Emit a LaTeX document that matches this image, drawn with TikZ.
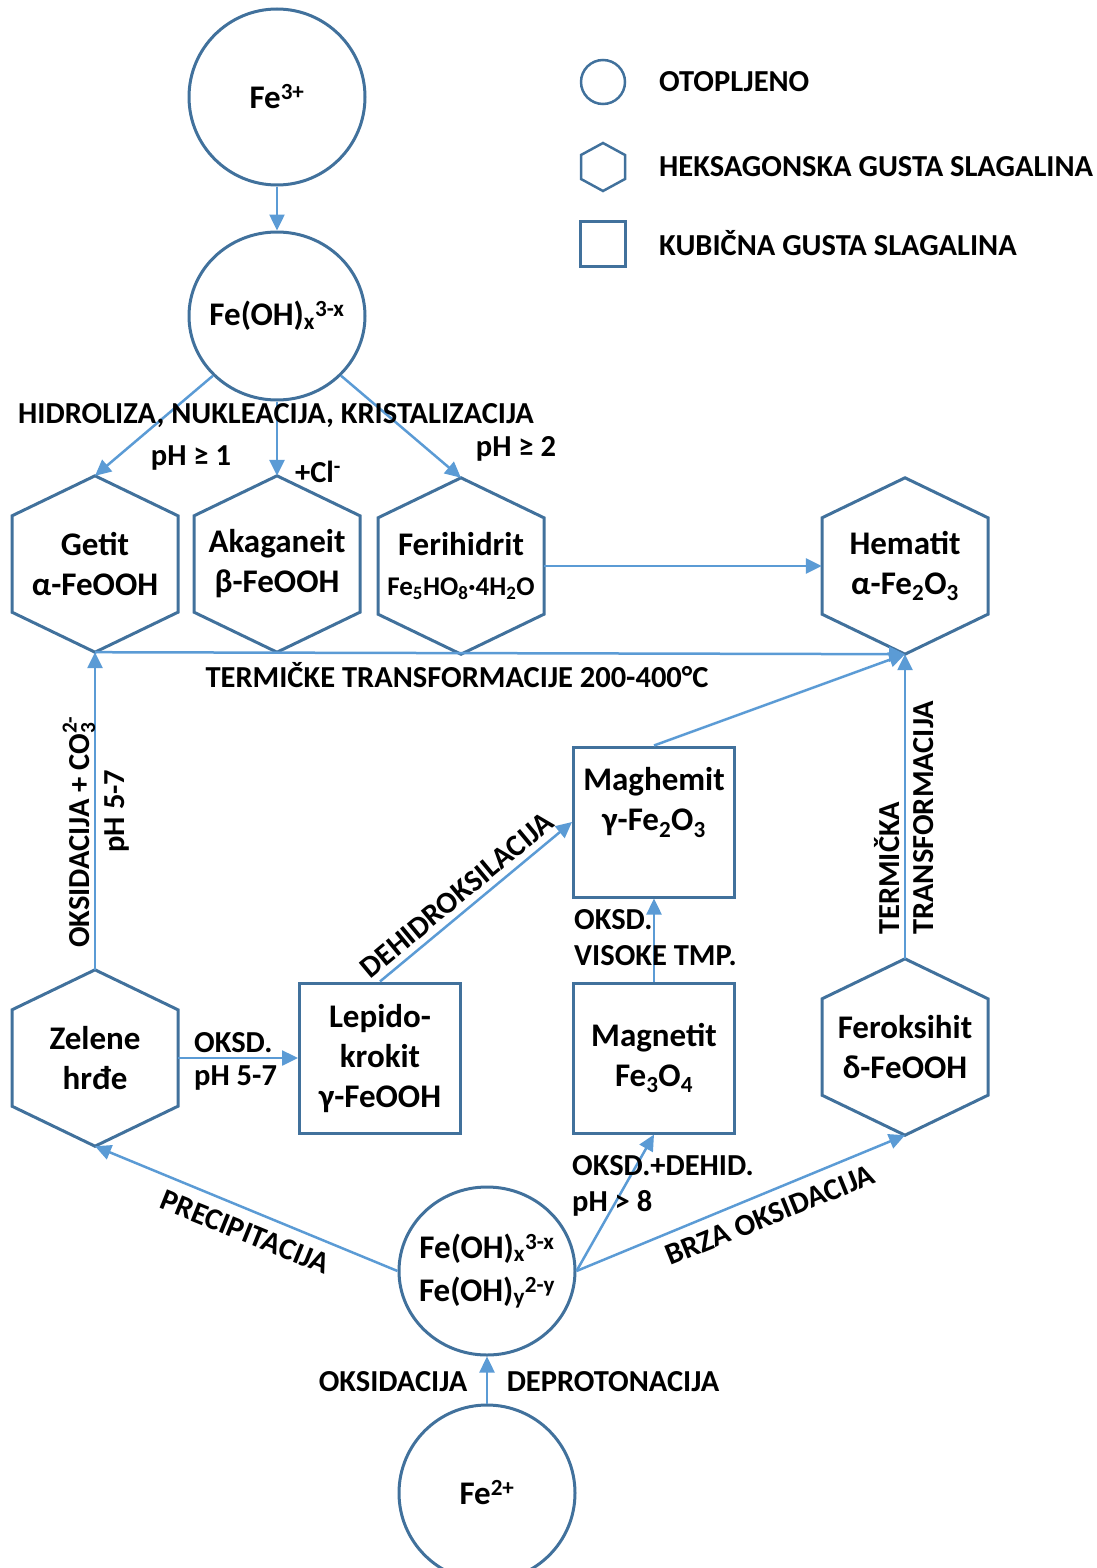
\documentclass[tikz,border=0pt]{standalone}
\usepackage{fontspec}
\setmainfont{Carlito}
\usetikzlibrary{arrows.meta,shapes.geometric}
\definecolor{nodeblue}{HTML}{41719C}
\definecolor{arrowblue}{HTML}{5B9BD5}
\newcommand\nodefont{\fontsize{33}{40}\selectfont\bfseries}
\newcommand\labfont{\fontsize{30.5}{36}\selectfont\bfseries}
\newcommand\hexdraw[1]{\draw[nodeline] (#1.north) -- ([shift={(83,40)}]#1.north) -- ([shift={(83,-40)}]#1.south) -- (#1.south) -- ([shift={(-83,-40)}]#1.south) -- ([shift={(-83,40)}]#1.north) -- cycle;}
\begin{document}
\begin{tikzpicture}[x=1pt,y=-1pt,
  nodeline/.style={draw=nodeblue,line width=3pt,line join=miter},
  hexnode/.style={minimum width=166pt,minimum height=176pt,inner sep=0pt,align=center,font=\nodefont},
  boxnode/.style={draw=nodeblue,line width=3pt,minimum width=161pt,minimum height=150pt,inner sep=0pt,align=center,font=\nodefont},
  circnode/.style={ellipse,draw=nodeblue,line width=3pt,inner sep=0pt},
  ctext/.style={inner sep=0pt,align=center,font=\nodefont},
  lab/.style={font=\labfont,inner sep=0pt,align=left},
  arr/.style={draw=arrowblue,line width=2.5pt,-{Triangle[length=16pt,width=15pt]}}]
\useasboundingbox (0,0) rectangle (1097,1568);

% circles
\node[circnode,minimum width=176pt,minimum height=176pt] (fe3) at (277,97) {};
\node[ctext] (fe3t) at (fe3) {Fe\textsuperscript{3+}};
\node[circnode,minimum width=176pt,minimum height=168pt] (feohx) at (277,316) {};
\node[ctext] (feohxt) at (feohx) {Fe(OH)\textsubscript{x}\textsuperscript{3-x}};
\node[circnode,minimum width=176pt,minimum height=168pt] (mid) at (487,1271) {};
\node[ctext] (midt) at (mid) {Fe(OH)\textsubscript{x}\textsuperscript{3-x}\\[3pt]Fe(OH)\textsubscript{y}\textsuperscript{2-y}};
\node[circnode,minimum width=176pt,minimum height=176pt] (fe2) at (487,1493) {};
\node[ctext] (fe2t) at (fe2) {Fe\textsuperscript{2+}};

% hexagons
\node[hexnode] (getit) at (95,564) {Getit\\α-FeOOH};
\node[hexnode] (akag) at (277,564) {Akaganeit\\β-FeOOH};
\node[hexnode] (ferih) at (461,566) {Ferihidrit\\{\fontsize{27}{30}\selectfont Fe\textsubscript{5}HO\textsubscript{8}·4H\textsubscript{2}O}};
\node[hexnode] (hemat) at (905,566) {Hematit\\α-Fe\textsubscript{2}O\textsubscript{3}};
\node[hexnode] (zelene) at (95,1058) {Zelene\\hrđe};
\node[hexnode] (ferok) at (905,1047) {Feroksihit\\δ-FeOOH};
\hexdraw{getit}
\hexdraw{akag}
\hexdraw{ferih}
\hexdraw{hemat}
\hexdraw{zelene}
\hexdraw{ferok}

% boxes
\node[boxnode] (maghem) at (654,822) {Maghemit\\γ-Fe\textsubscript{2}O\textsubscript{3}\\[6pt]};
\node[boxnode] (lepido) at (380,1058) {Lepido-\\krokit\\γ-FeOOH};
\node[boxnode] (magnet) at (654,1058) {Magnetit\\Fe\textsubscript{3}O\textsubscript{4}};

% legend
\node[circle,draw=nodeblue,line width=2.5pt,minimum size=44pt,inner sep=0pt] (legc) at (603,82) {};
\draw[draw=nodeblue,line width=2.5pt] (603,143) -- (625,155) -- (625,179) -- (603,191) -- (581,179) -- (581,155) -- cycle;
\node[draw=nodeblue,line width=2.5pt,minimum size=45pt,inner sep=0pt] (legs) at (603,244) {};
\node[lab,anchor=west] (legt1) at (659,82) {OTOPLJENO};
\node[lab,anchor=west] (legt2) at (659,167) {HEKSAGONSKA GUSTA SLAGALINA};
\node[lab,anchor=west] (legt3) at (659,243) {KUBIČNA GUSTA SLAGALINA};

% arrows
\draw[arr] (fe3.south) -- (feohx.north);
\draw[arr] (feohx.-137) -- (getit.north);
\draw[arr] (feohx.south) -- (akag.north);
\draw[arr] (feohx.-43) -- (ferih.north);
\draw[arr] (ferih.east) -- (hemat.west);
\draw[arr] (getit.south) -- (hemat.south);
\draw[arr] (zelene.north) -- (getit.south);
\draw[arr] (maghem.north) -- (hemat.south);
\draw[arr] (ferok.north) -- (hemat.south);
\draw[arr] (lepido.north) -- (maghem.west);
\draw[arr] (magnet.north) -- (maghem.south);
\draw[arr] (zelene.east) -- (lepido.west);
\draw[arr] (mid.west) -- (zelene.south);
\draw[arr] (mid.east) -- (magnet.south);
\draw[arr] (mid.east) -- (ferok.south);
\draw[arr] (fe2.north) -- (mid.south);

% labels
\node[lab] (l1) at (276,416) {HIDROLIZA, NUKLEACIJA, KRISTALIZACIJA};
\node[lab] (l2) at (191,458) {pH ≥ 1};
\node[lab] (l3) at (318,472) {+Cl\textsuperscript{-}};
\node[lab] (l4) at (516,449) {pH ≥ 2};
\node[lab] (l5) at (457,675) {TERMIČKE TRANSFORMACIJE 200-400°C};
\node[lab,rotate=90,anchor=west] (l6) at (79,948) {OKSIDACIJA + CO\rlap{\textsubscript{3}}\raisebox{4pt}{\textsuperscript{2-}}};
\node[lab,rotate=90] (l7) at (117,811) {pH 5-7};
\node[lab,rotate=39.7] (l8) at (457,895) {DEHIDROKSILACIJA};
\node[lab,anchor=west] (l9) at (574,920) {OKSD.};
\node[lab,anchor=west] (l10) at (574,956) {VISOKE TMP.};
\node[lab,rotate=90,anchor=west] (l11) at (887,935) {TERMIČKA};
\node[lab,rotate=90,anchor=west] (l12) at (924,935) {TRANSFORMACIJA};
\node[lab,anchor=west] (l13) at (194,1043) {OKSD.};
\node[lab,anchor=west] (l14) at (194,1078) {pH 5-7};
\node[lab,anchor=west] (l15) at (572,1166) {OKSD.+DEHID.};
\node[lab,anchor=west] (l16) at (572,1203) {pH > 8};
\node[lab,rotate=-22] (l17) at (245,1232) {PRECIPITACIJA};
\node[lab,rotate=22] (l18) at (770,1215) {BRZA OKSIDACIJA};
\node[lab] (l19) at (393,1382) {OKSIDACIJA};
\node[lab] (l20) at (613,1382) {DEPROTONACIJA};
\end{tikzpicture}
\end{document}
